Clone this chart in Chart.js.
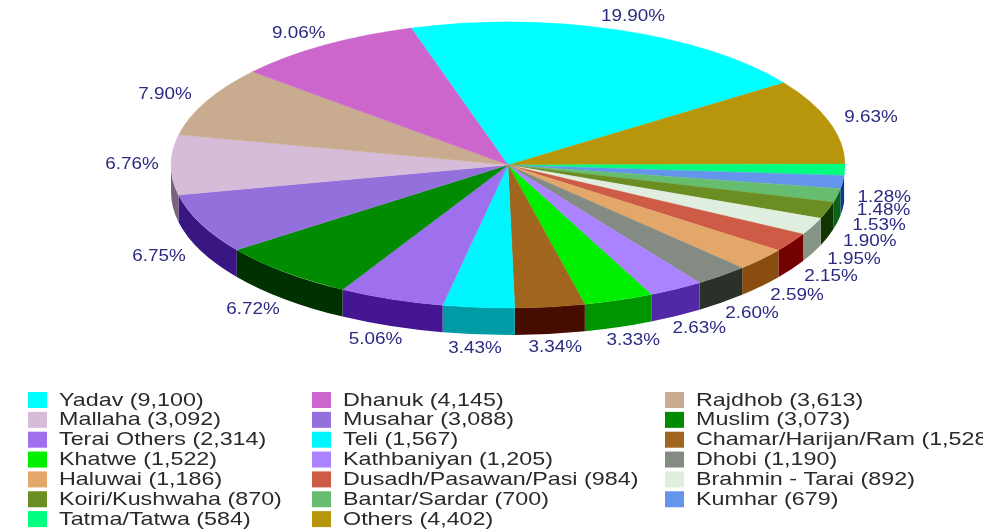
<!DOCTYPE html>
<html>
<head>
<meta charset="utf-8">
<style>
  html, body { margin: 0; padding: 0; background: #fff; overflow: hidden; }
  canvas { display: block; }
</style>
<script src="https://cdn.jsdelivr.net/npm/chart.js@4"></script>
</head>
<body>
<canvas id="myChart" width="983" height="530"></canvas>
<script>
const categories = ['Yadav', 'Dhanuk', 'Rajdhob', 'Mallaha', 'Musahar', 'Muslim', 'Terai Others',
  'Teli', 'Chamar/Harijan/Ram', 'Khatwe', 'Kathbaniyan', 'Dhobi', 'Haluwai', 'Dusadh/Pasawan/Pasi',
  'Brahmin - Tarai', 'Koiri/Kushwaha', 'Bantar/Sardar', 'Kumhar', 'Tatma/Tatwa', 'Others'];
const values = [9100, 4145, 3613, 3092, 3088, 3073, 2314, 1567, 1528, 1522, 1205, 1190, 1186, 984,
  892, 870, 700, 679, 584, 4402];
const colors = ['#00ffff', '#cc66cc', '#c9ac90', '#d6bcd8', '#9370db', '#008b00', '#9f70ee',
  '#00f5ff', '#a0661e', '#00ee00', '#ab82ff', '#838b83', '#e3a869', '#cd5b45',
  '#e0eee0', '#6b8e23', '#66bd70', '#6495ed', '#00ff7f', '#b8960b'];

// slices run clockwise from Yadav, then backwards through the legend
const sliceOrder = [0].concat(values.map((v, i) => i).slice(1).reverse());
const total = values.reduce((a, b) => a + b, 0);

const squash = 143 / 337;
const depth = 27;

function darker(hex) {
  const n = parseInt(hex.slice(1), 16);
  const c = [n >> 16, (n >> 8) & 255, n & 255].map(v => Math.max(0, v - 90));
  return 'rgb(' + c.join(',') + ')';
}

const pie3d = {
  id: 'pie3d',
  beforeDatasetsDraw(chart) {
    const ctx = chart.ctx;
    const arcs = chart.getDatasetMeta(0).data;
    const x = arcs[0].x, y = arcs[0].y, r = arcs[0].outerRadius;
    arcs.forEach((arc, i) => {
      // only the front half of the rim can be seen
      const turn = Math.PI * 2;
      let a = arc.startAngle % turn, b = arc.endAngle % turn;
      if (a < 0) a += turn;
      if (b < 0) b += turn;
      if (b <= a) b += turn;
      if (a >= Math.PI) return;
      b = Math.min(b, Math.PI);
      ctx.beginPath();
      ctx.ellipse(x, y, r, r * squash, 0, a, b);
      ctx.ellipse(x, y + depth, r, r * squash, 0, b, a, true);
      ctx.closePath();
      ctx.fillStyle = darker(colors[sliceOrder[i]]);
      ctx.fill();
    });
    ctx.save();
    ctx.translate(0, y);
    ctx.scale(1, squash);
    ctx.translate(0, -y);
  },
  afterDatasetsDraw(chart) {
    const ctx = chart.ctx;
    ctx.restore();
    const arcs = chart.getDatasetMeta(0).data;

    // percentage labels, a little further out on the diagonals
    ctx.save();
    ctx.font = '16px "Liberation Sans"';
    ctx.fillStyle = '#2b2b82';
    ctx.textAlign = 'center';
    ctx.textBaseline = 'middle';
    arcs.forEach((arc, i) => {
      const mid = (arc.startAngle + arc.endAngle) / 2;
      const lx = arc.x + Math.cos(mid) * (376 + 9 * Math.abs(Math.sin(2 * mid)));
      let ly = arc.y + Math.sin(mid) * 157;
      if (Math.sin(mid) > 0) ly += depth;
      const pct = (values[sliceOrder[i]] / total * 100).toFixed(2) + '%';
      ctx.save();
      ctx.translate(lx, ly);
      ctx.scale(1.18, 1);
      ctx.fillText(pct, 0, 0);
      ctx.restore();
    });
    ctx.restore();

    // legend, three columns filled row by row
    const colX = [28, 312, 665];
    ctx.save();
    ctx.font = '18.5px "Liberation Sans"';
    ctx.textBaseline = 'middle';
    categories.forEach((name, i) => {
      const sx = colX[i % 3];
      const sy = 400 + Math.floor(i / 3) * 19.85;
      ctx.fillStyle = colors[i];
      ctx.fillRect(sx, sy - 8, 19, 16);
      ctx.save();
      ctx.translate(sx + 31, sy + 0.5);
      ctx.scale(1.26, 1);
      ctx.fillStyle = '#2a2a2a';
      ctx.fillText(name + ' (' + values[i].toLocaleString('en-US') + ')', 0, 0);
      ctx.restore();
    });
    ctx.restore();
  }
};

new Chart(document.getElementById('myChart').getContext('2d'), {
  type: 'pie',
  data: {
    labels: sliceOrder.map(i => categories[i]),
    datasets: [{
      data: sliceOrder.map(i => values[i]),
      backgroundColor: sliceOrder.map(i => colors[i]),
      borderColor: sliceOrder.map(i => colors[i]),
      borderWidth: 0.5,
      clip: false
    }]
  },
  options: {
    responsive: false,
    animation: false,
    rotation: -16.7,
    radius: 337,
    layout: { padding: { left: 33, bottom: 200 } },
    plugins: { legend: { display: false }, tooltip: { enabled: false } }
  },
  plugins: [pie3d]
});
</script>
</body>
</html>
